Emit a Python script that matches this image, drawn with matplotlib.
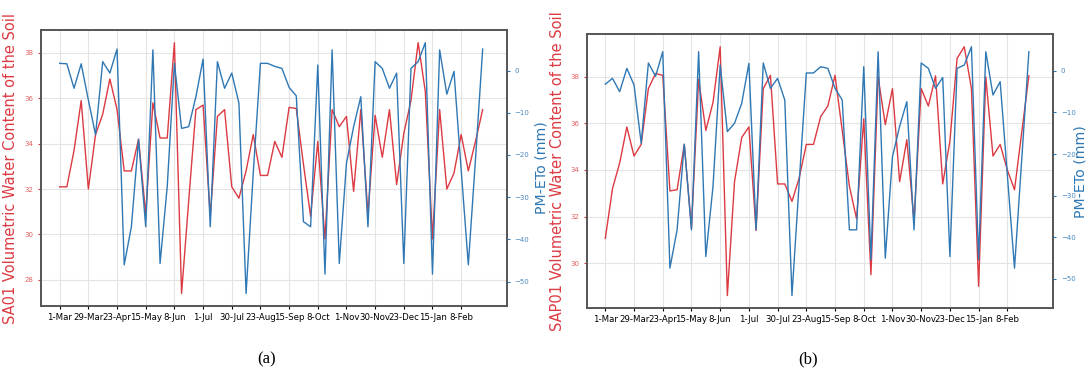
import matplotlib
matplotlib.use("Agg")
from matplotlib import pyplot as plt

tick_labels = ["1-Mar", "29-Mar", "23-Apr", "15-May", "8-Jun", "1-Jul", "30-Jul",
               "23-Aug", "15-Sep", "8-Oct", "1-Nov", "30-Nov", "23-Dec", "15-Jan", "8-Feb"]

# soil water content, panel (a) SA01
swc_a = [32.1, 32.1, 33.7, 35.9, 32.0, 34.4, 35.3, 36.85, 35.5, 32.8,
         32.8, 34.2, 30.9, 35.8, 34.25, 34.25, 38.45, 27.4, 31.5, 35.5,
         35.7, 30.8, 35.2, 35.5, 32.1, 31.6, 32.8, 34.4, 32.6, 32.6,
         34.1, 33.4, 35.6, 35.55, 33.1, 30.8, 34.1, 29.8, 35.5, 34.75,
         35.2, 31.9, 35.5, 30.9, 35.25, 33.4, 35.5, 32.2, 34.45, 35.9,
         38.45, 36.3, 29.8, 35.5, 32.0, 32.7, 34.4, 32.8, 34.1, 35.5]

# PM-ETo, panel (a)
eto_a = [1.7, 1.6, -4.2, 1.6, -7.0, -15.2, 2.1, -0.6, 5.1, -46.0,
         -37.0, -16.3, -37.0, 4.9, -45.7, -27.5, 1.7, -13.7, -13.3, -6.2,
         2.7, -37.0, 2.1, -4.2, -0.6, -7.7, -52.8, -24.3, 1.7, 1.7,
         1.0, 0.5, -4.0, -6.0, -35.8, -37.0, 1.3, -48.2, 4.9, -45.7,
         -22.0, -13.3, -6.2, -37.0, 2.1, 0.5, -4.2, -0.6, -45.7, 0.5,
         2.1, 6.6, -48.2, 4.9, -5.6, -0.2, -23.5, -46.0, -21.0, 5.1]

# soil water content, panel (b) SAP01
swc_b = [31.06, 33.2, 34.3, 35.85, 34.6, 35.1, 37.5, 38.15, 38.07, 33.1,
         33.15, 35.1, 31.5, 37.9, 35.7, 36.9, 39.3, 28.6, 33.5, 35.4,
         35.85, 31.4, 37.5, 38.07, 33.4, 33.4, 32.65, 33.65, 35.1, 35.1,
         36.3, 36.75, 38.07, 35.7, 33.3, 31.9, 36.2, 29.5, 38.0, 35.95,
         37.5, 33.5, 35.3, 31.8, 37.5, 36.75, 38.05, 33.4, 35.25, 38.8,
         39.3, 37.5, 29.0, 38.0, 34.6, 35.1, 34.0, 33.15, 35.6, 38.05]

# PM-ETo, panel (b)
eto_b = [-3.2, -1.8, -5.0, 0.6, -3.4, -17.4, 1.9, -1.3, 4.6, -47.4,
         -38.2, -17.6, -38.2, 4.6, -44.6, -27.8, 1.4, -14.6, -12.6, -7.8,
         1.8, -38.2, 1.9, -4.2, -1.8, -7.0, -54.0, -27.0, -0.5, -0.5,
         1.0, 0.6, -4.2, -7.0, -38.2, -38.2, 1.0, -45.4, 4.6, -45.0,
         -20.6, -13.3, -7.4, -38.2, 1.9, 0.6, -4.2, -1.6, -44.6, 0.6,
         1.4, 5.8, -45.4, 4.6, -5.8, -2.6, -25.0, -47.4, -21.4, 4.6]

red = "#dc3a42"
blue = "#2f78b4"

fig = plt.figure(figsize=(10.89, 3.72), dpi=100)

def panel(rect, swc, eto, ylabel, lab_x, eto_x, caption, cap_x):
    ax = fig.add_axes(rect)
    x = list(range(len(swc)))
    ax.plot(x, swc, color=red, lw=1.0)
    ax.set_xticks(x[::4][:len(tick_labels)])
    ax.set_xticklabels(tick_labels, fontsize=6.2)
    ax.tick_params(axis="x", length=2, pad=3)
    ax.tick_params(axis="y", labelsize=5, colors=red, length=2, labelcolor="#e06060")
    ax.set_ylabel(ylabel, color=red, fontsize=10.5)
    ax.yaxis.set_label_coords(lab_x, 0.5)
    ax.grid(True, color="#e4e4e4", lw=0.8)
    ax.set_xlim(-2.6, 62.4)
    for s in ax.spines.values():
        s.set_color("#555555")
        s.set_linewidth(1.4)

    ax2 = ax.twinx()
    ax2.plot(x, eto, color=blue, lw=1.0)
    ax2.tick_params(axis="y", labelsize=5, colors=blue, length=2, labelcolor="#4a88c0")
    ax2.set_ylabel("PM-ETo (mm)", color=blue, fontsize=10.2)
    ax2.yaxis.set_label_coords(eto_x, 0.5)
    for s in ax2.spines.values():
        s.set_visible(False)

    fig.text(cap_x, 0.035, caption, fontsize=12, family="Liberation Serif",
             ha="center", va="center")

panel([0.0377, 0.1774, 0.4279, 0.7416], swc_a, eto_a,
      "SA01 Volumetric Water Content of the Soil", -0.049, 1.058, "(a)", 0.245)
panel([0.5387, 0.172, 0.4285, 0.7358], swc_b, eto_b,
      "SAP01 Volumetric Water Content of the Soil", -0.046, 1.044, "(b)", 0.742)

fig.savefig("out.png", dpi=100)
